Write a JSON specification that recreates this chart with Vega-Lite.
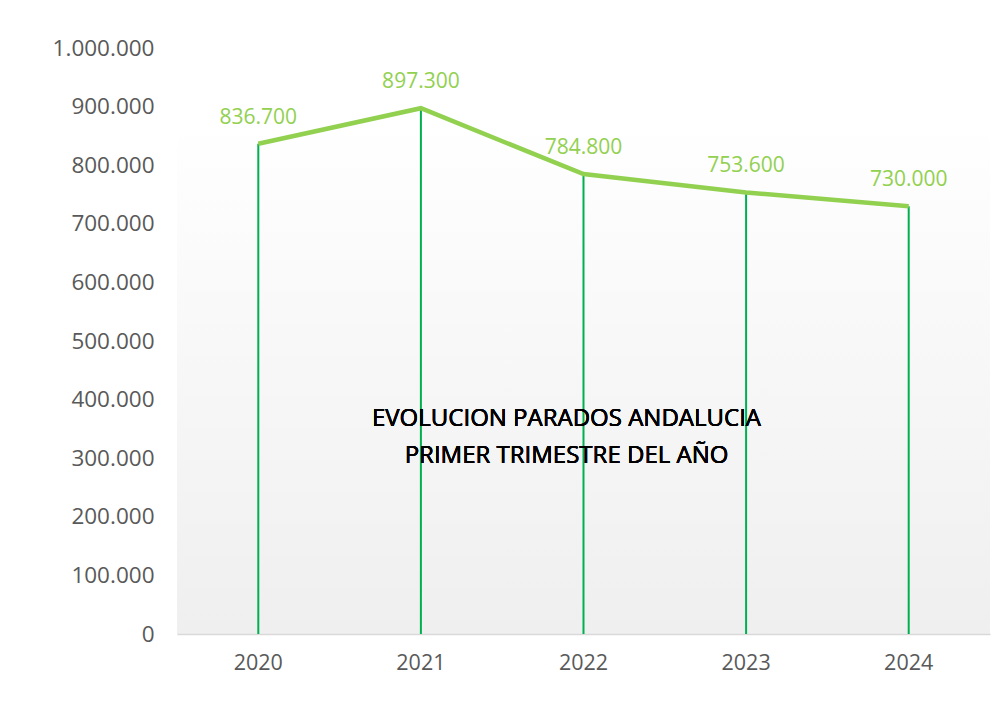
{
  "$schema": "https://vega.github.io/schema/vega-lite/v6.json",
  "autosize": {"type": "none"},
  "width": 813,
  "height": 586,
  "padding": {"left": 177, "top": 48, "right": 4, "bottom": 68},
  "background": "#ffffff",
  "config": {
    "locale": {"number": {"decimal": ",", "thousands": ".", "grouping": [3], "currency": ["", " €"]}},
    "view": {
      "stroke": null,
      "fill": {"gradient": "linear", "x1": 0, "y1": 0, "x2": 0, "y2": 1,
        "stops": [{"offset": 0, "color": "#ffffff"}, {"offset": 0.12, "color": "#ffffff"}, {"offset": 1, "color": "#efefef"}]}
    },
    "font": "Open Sans"
  },
  "data": {"values": [
    {"year": "2020", "parados": 836700},
    {"year": "2021", "parados": 897300},
    {"year": "2022", "parados": 784800},
    {"year": "2023", "parados": 753600},
    {"year": "2024", "parados": 730000}
  ]},
  "encoding": {
    "x": {"field": "year", "type": "ordinal",
      "scale": {"paddingInner": 0, "paddingOuter": 0},
      "axis": {"title": null, "labelAngle": 0, "ticks": false, "domainColor": "#d9d9d9", "domainWidth": 1.5,
        "labelFont": "Open Sans", "labelFontSize": 21.5, "labelColor": "#595959", "labelPadding": 18}},
    "y": {"field": "parados", "type": "quantitative",
      "scale": {"domain": [0, 1000000], "nice": false},
      "axis": {"title": null, "values": [0,100000,200000,300000,400000,500000,600000,700000,800000,900000,1000000],
        "labelOverlap": false, "format": ",d", "grid": false, "domain": false, "ticks": false,
        "labelFont": "Open Sans", "labelFontSize": 22.5, "labelColor": "#595959", "labelPadding": 23}}
  },
  "layer": [
    {"mark": {"type": "rule", "color": "#00B050", "strokeWidth": 2},
     "encoding": {"y2": {"datum": 0}}},
    {"mark": {"type": "line", "color": "#92D050", "strokeWidth": 4.5}},
    {"mark": {"type": "text", "color": "#92D050", "fontSize": 21, "font": "Open Sans", "baseline": "bottom", "dy": -16},
     "encoding": {"text": {"field": "parados", "type": "quantitative", "format": ",d"}}},
    {"mark": {"type": "text", "color": "#000000", "fontSize": 24, "font": "Open Sans", "letterSpacing": 0, "align": "center", "baseline": "middle", "lineHeight": 37, "dx": -17,
       "text": ["EVOLUCION PARADOS ANDALUCIA", "PRIMER TRIMESTRE DEL AÑO"]},
     "encoding": {"x": {"datum": "2022"}, "y": {"datum": 367000}, "text": null}}
  ]
}
